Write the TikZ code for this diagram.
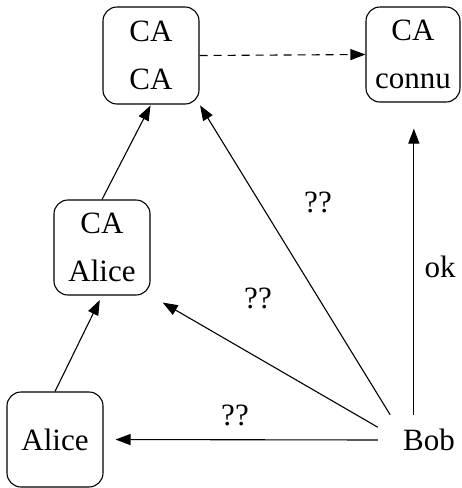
\documentclass[tikz,border=0pt]{standalone}
\usepackage{fontspec}
\setmainfont{Liberation Serif}
\usetikzlibrary{arrows.meta}
\begin{document}
\begin{tikzpicture}[x=1pt,y=-1pt,
  box/.style={draw,rounded corners=14pt,line width=1.1pt,inner sep=0pt,align=center,
    font=\fontsize{31}{48}\selectfont},
  lbl/.style={font=\fontsize{31}{36}\selectfont,inner sep=0pt},
  arr/.style={-{Triangle[length=15pt,width=11pt]},line width=1.1pt}]
\useasboundingbox (0,0) rectangle (462,488);
\node[box,minimum width=96pt,minimum height=97pt] (caca) at (151,55.5) {CA\\CA};
\node[box,minimum width=94pt,minimum height=95pt] (connu) at (413,54.5) {CA\\connu};
\node[box,minimum width=96pt,minimum height=95pt] (caalice) at (102,247.5) {CA\\Alice};
\node[box,minimum width=96pt,minimum height=95pt] (alice) at (55,439.5) {Alice};
\node[lbl,minimum width=102pt,minimum height=50pt] (bob) at (429,440) {Bob};
\draw[arr,dashed,dash pattern=on 8pt off 6pt] (caca.east) -- (connu.west);
\draw[arr,shorten >=5pt] (alice.north) -- (caalice.south);
\draw[arr,shorten >=1pt] (caalice.north) -- (caca.south);
\draw[arr,shorten >=12pt] (bob.west) -- (alice.east);
\draw[arr,shorten >=14pt] (bob.166) -- (caalice.south east);
\draw[arr,shorten >=1pt] (bob.147) -- (caca.south east);
\draw[arr,shorten >=26pt] (bob.121) -- (bob.121 |- connu.south);
\node[lbl] (q1) at (318,202) {??};
\node[lbl] (q2) at (258,298) {??};
\node[lbl] (q3) at (235,415) {??};
\node[lbl] (ok) at (440,267) {ok};
\end{tikzpicture}
\end{document}
